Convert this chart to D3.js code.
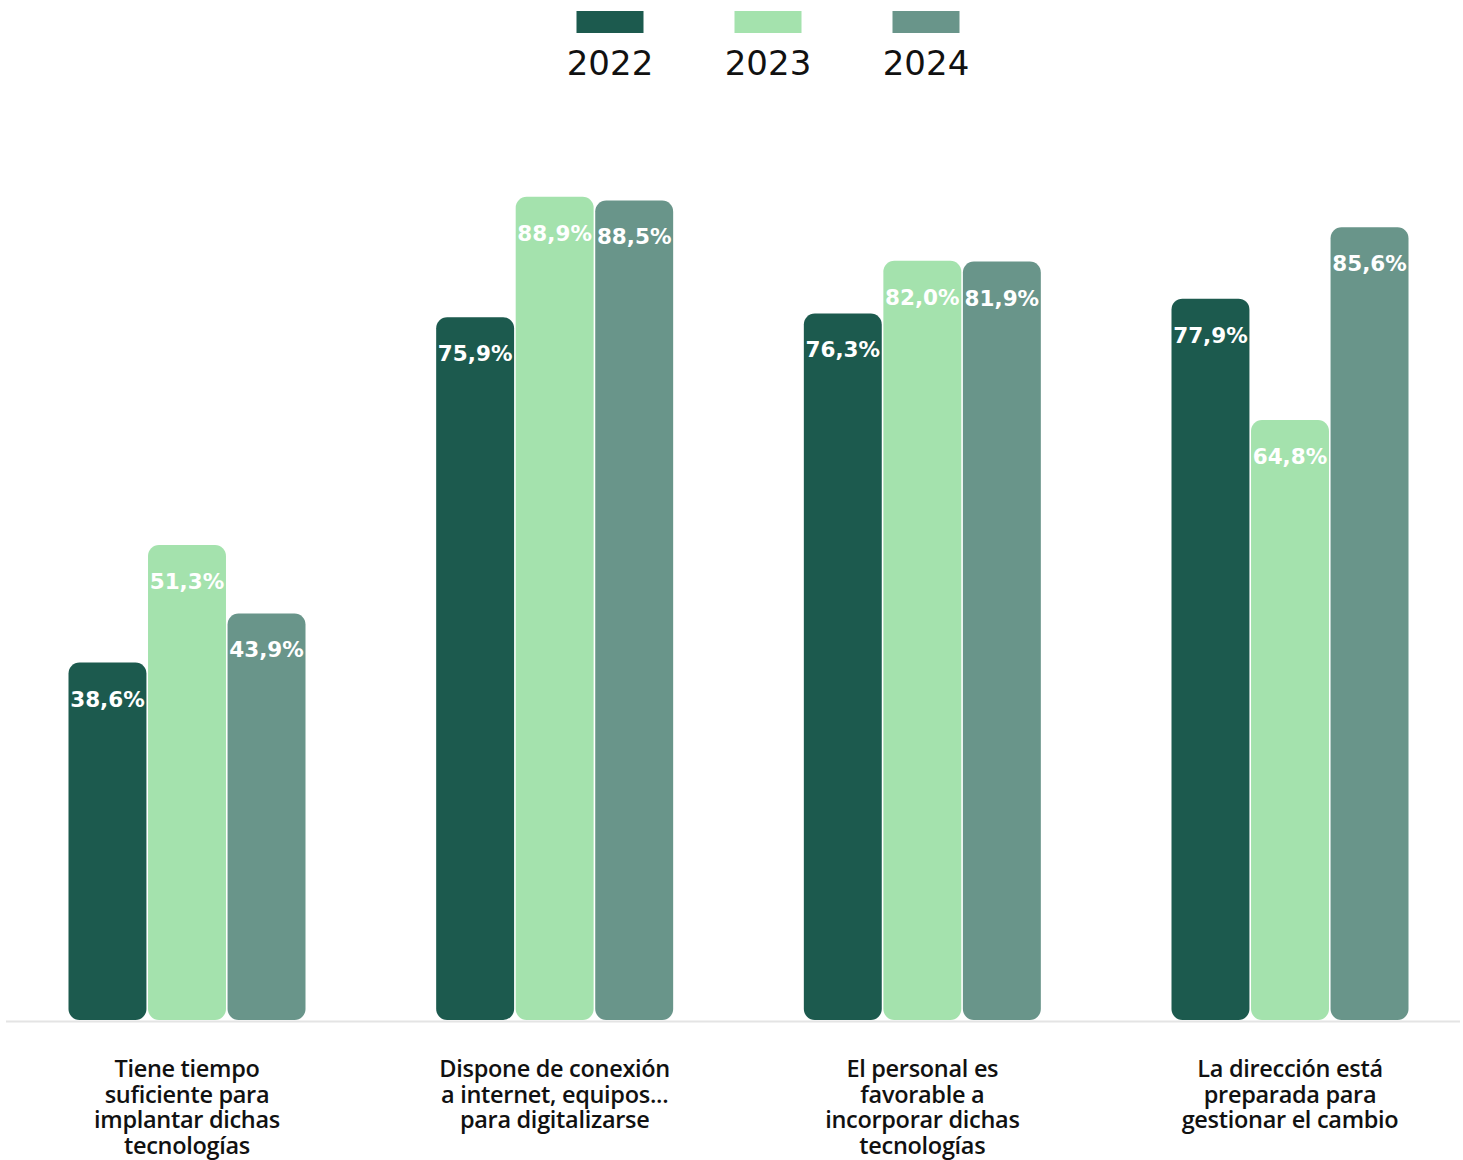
<!DOCTYPE html>
<html>
<head>
<meta charset="utf-8">
<script src="https://cdn.jsdelivr.net/npm/d3@7"></script>
<style>
  body { margin: 0; background: #fff; }
  .valueLabel { font-family: "DejaVu Sans", sans-serif; font-weight: bold; font-size: 21.5px; fill: #fff; }
  .legendText { font-family: "DejaVu Sans", sans-serif; font-size: 34px; fill: #111; }
  .catLabel { font-family: "Open Sans", "Liberation Sans", sans-serif; font-weight: 600; font-size: 23.5px; fill: #111; letter-spacing: -0.3px; }
</style>
</head>
<body>
<script>
(function () {

    //chart data
    var categories = [
        ["Tiene tiempo", "suficiente para", "implantar dichas", "tecnologías"],
        ["Dispone de conexión", "a internet, equipos...", "para digitalizarse"],
        ["El personal es", "favorable a", "incorporar dichas", "tecnologías"],
        ["La dirección está", "preparada para", "gestionar el cambio"]
    ];
    var years = ["2022", "2023", "2024"];
    var values2022 = [38.6, 75.9, 76.3, 77.9];
    var values2023 = [51.3, 88.9, 82.0, 64.8];
    var values2024 = [43.9, 88.5, 81.9, 85.6];
    var colors = ["#1c5a4e", "#a4e2ad", "#69958a"];

    var series = [values2022, values2023, values2024];

    //frame
    var width = 1463,
        height = 1160,
        baseline = 1020;

    var svg = d3.select("body")
        .append("svg")
        .attr("width", width)
        .attr("height", height);

    //scales
    var x0 = d3.scalePoint()
        .domain(d3.range(categories.length))
        .range([187, 1290]);

    var x1 = d3.scaleBand()
        .domain(years)
        .range([-118.5, 118.5])
        .paddingInner(0.02);

    var y = d3.scaleLinear()
        .domain([0, 100])
        .range([baseline, baseline - 926]);

    var color = d3.scaleOrdinal().domain(years).range(colors);

    //baseline rule
    svg.append("line")
        .attr("x1", 6)
        .attr("x2", 1460)
        .attr("y1", baseline + 1.5)
        .attr("y2", baseline + 1.5)
        .attr("stroke", "#e4e4e4")
        .attr("stroke-width", 2);

    //bars
    var groups = svg.selectAll(".group")
        .data(d3.range(categories.length))
        .enter()
        .append("g")
        .attr("class", "group")
        .attr("transform", function (i) { return "translate(" + x0(i) + ",0)"; });

    var cells = groups.selectAll(".bar")
        .data(function (i) {
            return years.map(function (yr, k) {
                return { year: yr, value: series[k][i] };
            });
        })
        .enter();

    cells.append("rect")
        .attr("class", "bar")
        .attr("x", function (d) { return x1(d.year); })
        .attr("width", x1.bandwidth())
        .attr("y", function (d) { return y(d.value); })
        .attr("height", function (d) { return baseline - y(d.value); })
        .attr("rx", 11)
        .attr("fill", function (d) { return color(d.year); });

    cells.append("text")
        .attr("class", "valueLabel")
        .attr("x", function (d) { return x1(d.year) + x1.bandwidth() / 2; })
        .attr("y", function (d) { return y(d.value) + 44; })
        .attr("text-anchor", "middle")
        .text(function (d) { return d.value.toFixed(1).replace(".", ",") + "%"; });

    //category labels, one text per line
    groups.selectAll(".catLabel")
        .data(function (i) { return categories[i]; })
        .enter()
        .append("text")
        .attr("class", "catLabel")
        .attr("text-anchor", "middle")
        .attr("x", 0)
        .attr("y", function (d, j) { return 1077 + j * 25.5; })
        .text(function (d) { return d; });

    //legend
    var legend = d3.scalePoint()
        .domain(years)
        .range([610, 926]);

    var items = svg.selectAll(".legendItem")
        .data(years)
        .enter()
        .append("g")
        .attr("class", "legendItem")
        .attr("transform", function (d) { return "translate(" + legend(d) + ",0)"; });

    items.append("rect")
        .attr("x", -33.5)
        .attr("y", 11)
        .attr("width", 67)
        .attr("height", 22)
        .attr("fill", function (d) { return color(d); });

    items.append("text")
        .attr("class", "legendText")
        .attr("text-anchor", "middle")
        .attr("y", 75)
        .text(function (d) { return d; });

})();
</script>
</body>
</html>
